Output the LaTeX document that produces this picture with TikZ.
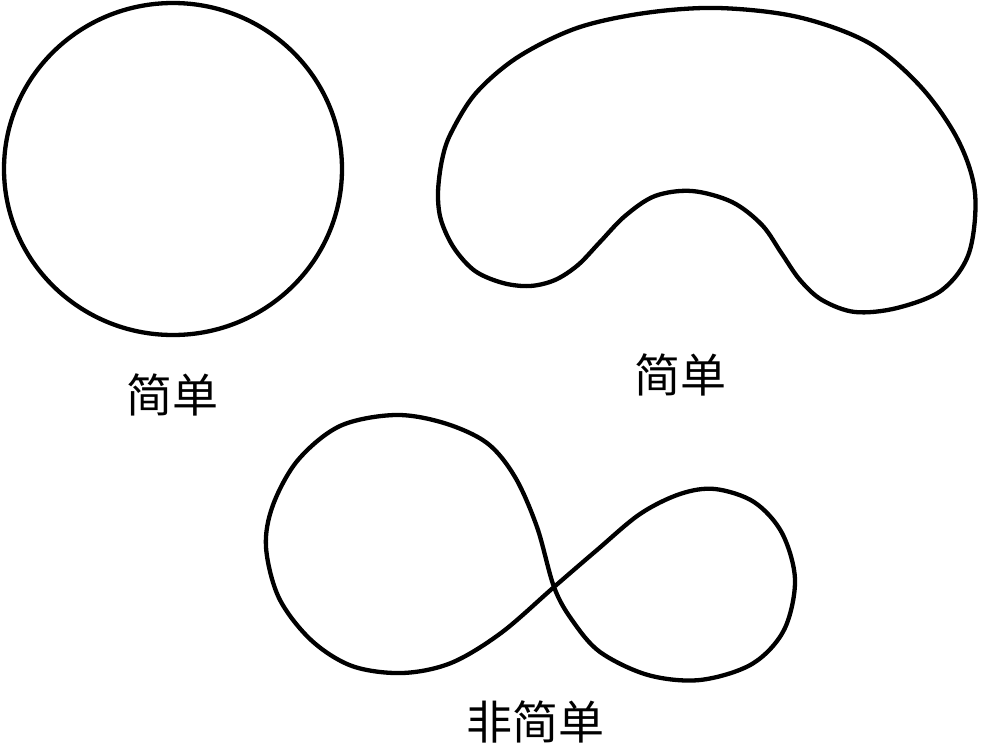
\documentclass[tikz,border=0pt]{standalone}
\usepackage{fontspec}
\newfontfamily\cjk{Noto Sans CJK SC}
\begin{document}
\begin{tikzpicture}[x=1pt,y=-1pt,
  curve/.style={line width=4.3pt,line join=round},
  label/.style={font=\cjk\fontsize{46}{46}\selectfont,inner sep=0pt}]
\useasboundingbox (0,0) rectangle (989,753);
% circle
\draw[curve] (173,169) ellipse [x radius=169, y radius=166];
\node[label] (l1) at (172,395) {简单};
% kidney
\draw[curve] plot[smooth cycle,tension=0.55] coordinates {
 (438,193) (442,160) (451,133) (476,93) (518,57) (577,28) (645,13) (718,8) (798,17)
 (869,43) (921,87) (958,140) (975,193) (969,253) (942,290) (897,308)
 (855,312) (822,300) (800,280) (782,254) (762,225) (732,202) (692,191) (655,196)
 (625,216) (600,242) (578,265) (555,280) (530,286) (503,283) (475,271)
 (454,248) (441,220)};
\node[label] (l2) at (680,375) {简单};
% figure eight
\draw[curve] plot[smooth cycle,tension=0.55] coordinates {
 (554,587) (537,527) (515,477) (487,443) (444,423) (395,415) (340,426)
 (298,460) (273,505) (266,547) (279,598) (311,640) (352,666) (402,673)
 (451,663) (501,633) (554,587) (597,550) (640,514) (680,494) (715,489)
 (754,502) (782,533) (795,580) (784,630) (752,664) (700,680) (648,675)
 (600,652) (572,620)};
\node[label] (l3) at (535,722) {非简单};
\end{tikzpicture}
\end{document}
